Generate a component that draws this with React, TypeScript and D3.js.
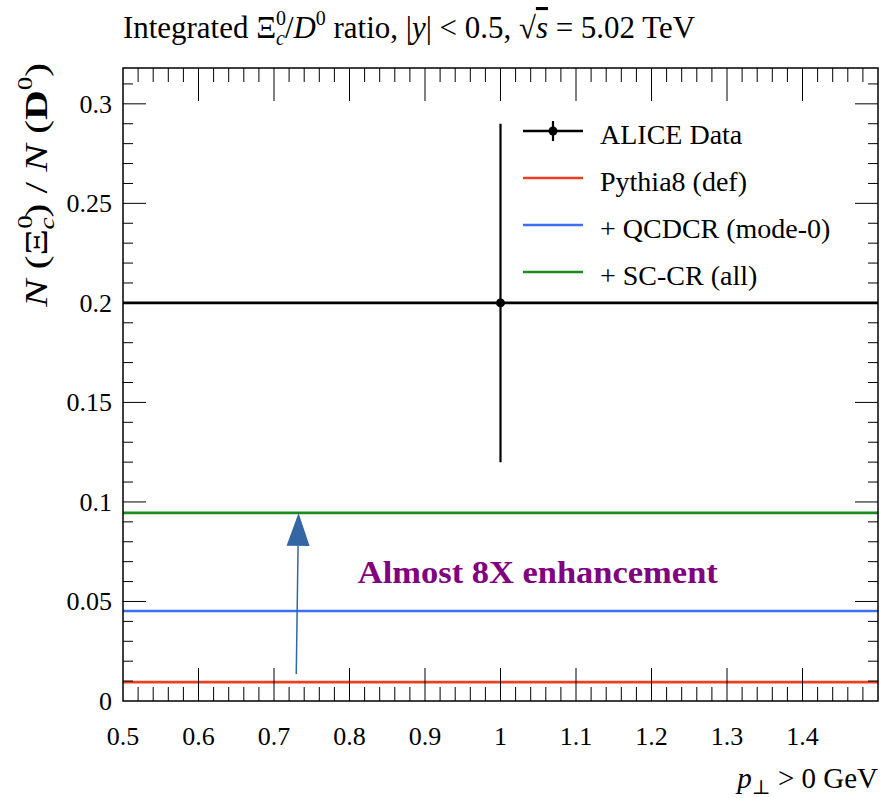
import React from 'react';
import * as d3 from 'd3';

const W = 882;
const H = 798;
const frame = { left: 123, right: 878, top: 68, bottom: 701 };

// axis settings
const xDomain = [0.5, 1.5];
const yDomain = [0, 0.318];
const xTickValues = [0.5, 0.6, 0.7, 0.8, 0.9, 1.0, 1.1, 1.2, 1.3, 1.4];
const xTickLabels = ['0.5', '0.6', '0.7', '0.8', '0.9', '1', '1.1', '1.2', '1.3', '1.4'];
const yTickValues = [0, 0.05, 0.1, 0.15, 0.2, 0.25, 0.3];
const yTickLabels = ['0', '0.05', '0.1', '0.15', '0.2', '0.25', '0.3'];

// ALICE data
const dataX = [1.0];
const dataY = [0.2];
const dataXLow = [0.5];
const dataXHigh = [1.5];
const dataYLow = [0.12];
const dataYHigh = [0.29];

// model predictions (flat integrated values)
const modelNames = ['Pythia8 (def)', '+ QCDCR (mode-0)', '+ SC-CR (all)'];
const modelValues = [0.0095, 0.0452, 0.0945];
const modelColors = ['#ec3f1d', '#3a6ff6', '#1c8c1e'];

// annotation arrow (data coordinates)
const arrowFrom = [0.7295, 0.0135];
const arrowTo = [0.7325, 0.0945];
const annotationText = 'Almost 8X enhancement';
const annotationPos = [0.811, 0.0595];

const FONT = '"Liberation Serif", "DejaVu Serif", serif';

export default function App() {
  const x = d3.scaleLinear().domain(xDomain).range([frame.left, frame.right]);
  const y = d3.scaleLinear().domain(yDomain).range([frame.bottom, frame.top]);

  const xMinor = d3.range(0.52, 1.5, 0.02).filter(v => Math.abs(v * 10 - Math.round(v * 10)) > 1e-6);
  const yMinor = d3.range(0.01, 0.318, 0.01).filter(v => Math.abs(v * 20 - Math.round(v * 20)) > 1e-6);

  const xMajLen = 33, xMinLen = 14, yMajLen = 23, yMinLen = 10;

  const ax = x(arrowFrom[0]), ay = y(arrowFrom[1]);
  const tx = x(arrowTo[0]), ty = y(arrowTo[1]);
  const headLen = 33, headW = 11.5;
  const ang = Math.atan2(ty - ay, tx - ax);
  const bx = tx - headLen * Math.cos(ang), by = ty - headLen * Math.sin(ang);
  const px = -Math.sin(ang) * headW, py = Math.cos(ang) * headW;

  const legendX0 = 523, legendX1 = 583, legendTextX = 600;
  const legendRows = [131, 178, 225, 272];

  return (
    <svg width={W} height={H} style={{ display: 'block', position: 'absolute', left: 0, top: 0 }} fontFamily={FONT}>
      <rect x={0} y={0} width={W} height={H} fill="#fff" />
      {/* title */}
      <text x={frame.left} y={38} fontSize={31} textLength={572} lengthAdjust="spacingAndGlyphs">
        Integrated Ξ
        <tspan fontSize={20} dy={-13}>0</tspan>
        <tspan fontSize={20} fontStyle="italic" dx={-10} dy={20}>c</tspan>
        <tspan dy={-7}>/</tspan>
        <tspan fontStyle="italic">D</tspan>
        <tspan fontSize={20} dy={-13}>0</tspan>
        <tspan dy={13}> ratio, |</tspan>
        <tspan fontStyle="italic">y</tspan>
        <tspan>| &lt; 0.5, √</tspan>
        <tspan fontStyle="italic" textDecoration="overline">s</tspan>
        <tspan> = 5.02 TeV</tspan>
      </text>

      {/* model lines */}
      {modelValues.map((v, i) => (
        <line key={'m' + i} x1={frame.left} x2={frame.right} y1={y(v)} y2={y(v)} stroke={modelColors[i]} strokeWidth={2.6} />
      ))}

      {/* data */}
      {dataX.map((d, i) => (
        <g key={'d' + i}>
          <line x1={x(dataXLow[i])} x2={x(dataXHigh[i])} y1={y(dataY[i])} y2={y(dataY[i])} stroke="#000" strokeWidth={2.6} />
          <line x1={x(d)} x2={x(d)} y1={y(dataYLow[i])} y2={y(dataYHigh[i])} stroke="#000" strokeWidth={2.2} />
          <circle cx={x(d)} cy={y(dataY[i])} r={4.5} fill="#000" />
        </g>
      ))}

      {/* arrow */}
      <line x1={ax} y1={ay} x2={bx} y2={by} stroke="#3465a4" strokeWidth={1.5} />
      <polygon points={`${tx},${ty} ${bx + px},${by + py} ${bx - px},${by - py}`} fill="#3465a4" />
      <text x={x(annotationPos[0])} y={y(annotationPos[1])} fontSize={31} fontWeight="bold" fill="#800080" textLength={360} lengthAdjust="spacingAndGlyphs">
        {annotationText}
      </text>

      {/* frame */}
      <rect x={frame.left} y={frame.top} width={frame.right - frame.left} height={frame.bottom - frame.top} fill="none" stroke="#000" strokeWidth={1.5} />

      {/* x ticks */}
      {xTickValues.filter(v => v > 0.5).map((v, i) => (
        <g key={'xt' + i}>
          <line x1={x(v)} x2={x(v)} y1={frame.bottom} y2={frame.bottom - xMajLen} stroke="#000" strokeWidth={1} />
          <line x1={x(v)} x2={x(v)} y1={frame.top} y2={frame.top + xMajLen} stroke="#000" strokeWidth={1} />
        </g>
      ))}
      {xMinor.map((v, i) => (
        <g key={'xm' + i}>
          <line x1={x(v)} x2={x(v)} y1={frame.bottom} y2={frame.bottom - xMinLen} stroke="#000" strokeWidth={1} />
          <line x1={x(v)} x2={x(v)} y1={frame.top} y2={frame.top + xMinLen} stroke="#000" strokeWidth={1} />
        </g>
      ))}
      {xTickValues.map((v, i) => (
        <text key={'xl' + i} x={x(v)} y={745} fontSize={26} textAnchor="middle">{xTickLabels[i]}</text>
      ))}

      {/* y ticks */}
      {yTickValues.filter(v => v > 0).map((v, i) => (
        <g key={'yt' + i}>
          <line x1={frame.left} x2={frame.left + yMajLen} y1={y(v)} y2={y(v)} stroke="#000" strokeWidth={1} />
          <line x1={frame.right} x2={frame.right - yMajLen} y1={y(v)} y2={y(v)} stroke="#000" strokeWidth={1} />
        </g>
      ))}
      {yMinor.map((v, i) => (
        <g key={'ym' + i}>
          <line x1={frame.left} x2={frame.left + yMinLen} y1={y(v)} y2={y(v)} stroke="#000" strokeWidth={1} />
          <line x1={frame.right} x2={frame.right - yMinLen} y1={y(v)} y2={y(v)} stroke="#000" strokeWidth={1} />
        </g>
      ))}
      {yTickValues.map((v, i) => (
        <text key={'yl' + i} x={112} y={y(v) + 9} fontSize={26} textAnchor="end">{yTickLabels[i]}</text>
      ))}

      {/* y label */}
      <text transform={`translate(47,185) rotate(-90)`} fontSize={32} textAnchor="middle" textLength={244} lengthAdjust="spacingAndGlyphs">
        <tspan fontStyle="italic">N</tspan>
        <tspan> (Ξ</tspan>
        <tspan fontSize={21} dy={-15}>0</tspan>
        <tspan fontSize={21} fontStyle="italic" dx={-11} dy={22}>c</tspan>
        <tspan dy={-7}>) / </tspan>
        <tspan fontStyle="italic">N</tspan>
        <tspan> (</tspan>
        <tspan fontWeight="bold">D</tspan>
        <tspan fontSize={21} dy={-15}>0</tspan>
        <tspan dy={15}>)</tspan>
      </text>

      {/* x label */}
      <text x={frame.right} y={788} fontSize={29} textAnchor="end">
        <tspan fontStyle="italic">p</tspan>
        <tspan fontSize={20} dy={6}>⊥</tspan>
        <tspan dy={-6}> &gt; 0 GeV</tspan>
      </text>

      {/* legend */}
      <line x1={legendX0} x2={legendX1} y1={legendRows[0]} y2={legendRows[0]} stroke="#000" strokeWidth={2.6} />
      <line x1={(legendX0 + legendX1) / 2} x2={(legendX0 + legendX1) / 2} y1={legendRows[0] - 10} y2={legendRows[0] + 10} stroke="#000" strokeWidth={2.2} />
      <circle cx={(legendX0 + legendX1) / 2} cy={legendRows[0]} r={4.5} fill="#000" />
      <text x={legendTextX} y={legendRows[0] + 13} fontSize={28}>ALICE Data</text>
      {modelNames.map((n, i) => (
        <g key={'lg' + i}>
          <line x1={legendX0} x2={legendX1} y1={legendRows[i + 1]} y2={legendRows[i + 1]} stroke={modelColors[i]} strokeWidth={2.6} />
          <text x={legendTextX} y={legendRows[i + 1] + 13} fontSize={28}>{n}</text>
        </g>
      ))}
    </svg>
  );
}
